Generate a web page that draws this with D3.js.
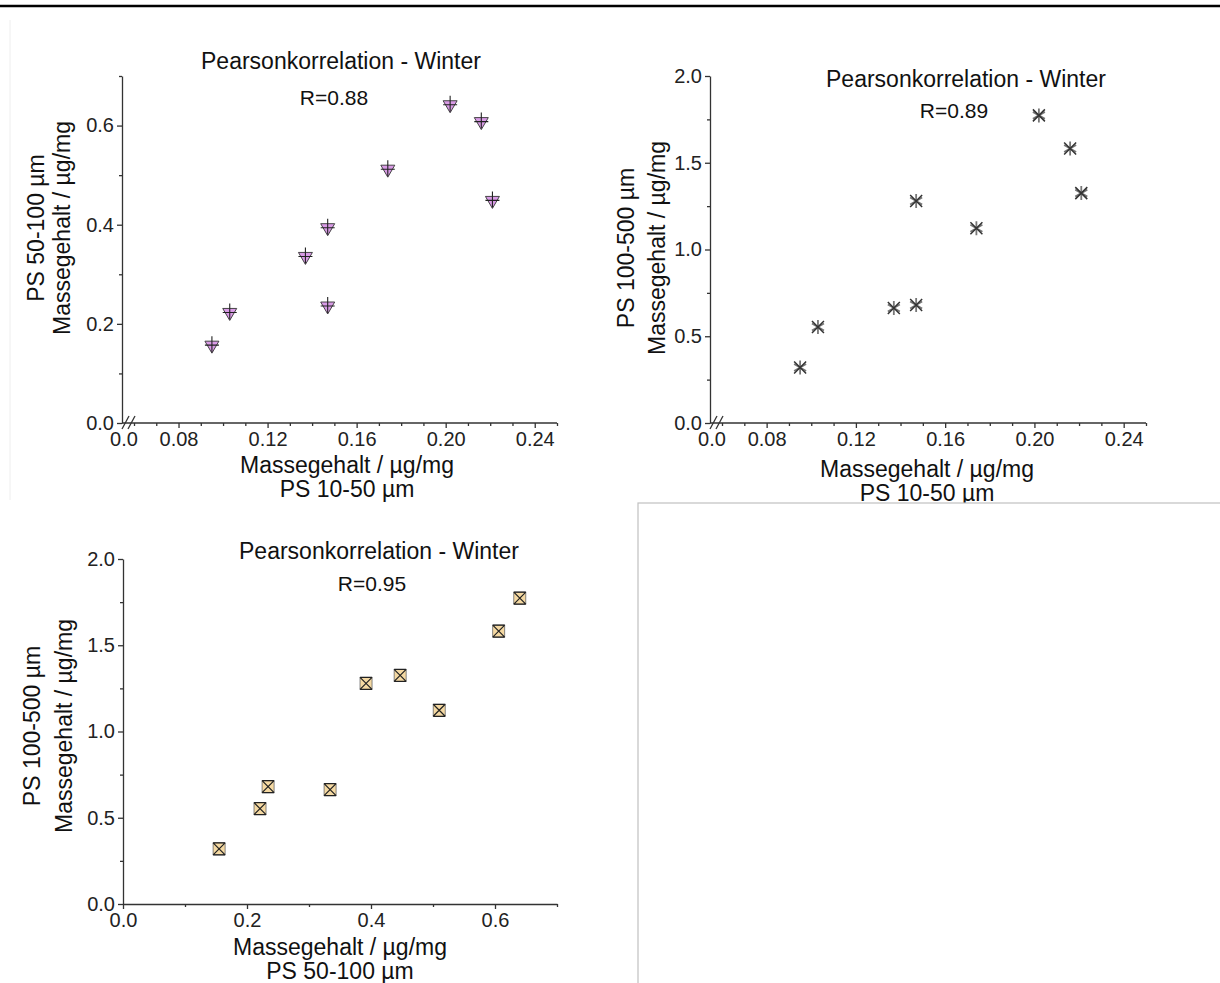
<!DOCTYPE html>
<html lang="de">
<head>
<meta charset="UTF-8">
<title>Pearsonkorrelation - Winter</title>
<script src="https://d3js.org/d3.v7.min.js"></script>
<style>
  body, html {
    margin: 0;
    padding: 0;
    background: #fff;
    overflow: hidden;
  }
  svg {
    display: block;
    font-family: "Liberation Sans", Arial, sans-serif;
  }
  .axis path, .axis line {
    stroke: #333;
    stroke-width: 1.3;
  }
  .axis text {
    font-family: "Liberation Sans", Arial, sans-serif;
    font-size: 20px;
    fill: #222;
  }
  .title {
    font-size: 23px;
    fill: #111;
    text-anchor: middle;
  }
  .rval {
    font-size: 21px;
    fill: #111;
    text-anchor: middle;
  }
  .axtitle {
    font-size: 23px;
    fill: #111;
    text-anchor: middle;
  }
</style>
</head>
<body>
<svg></svg>
<script>
  // Massegehalt (µg/mg) der neun Winterproben je Größenfraktion
  const ps10_50   = [0.095, 0.103, 0.137, 0.147, 0.147, 0.174, 0.202, 0.216, 0.221];
  const ps50_100  = [0.155, 0.221, 0.334, 0.392, 0.234, 0.510, 0.640, 0.606, 0.447];
  const ps100_500 = [0.320, 0.553, 0.663, 1.279, 0.680, 1.123, 1.773, 1.582, 1.325];

  const rLabels = ["R=0.88", "R=0.89", "R=0.95"];
  const titleText = "Pearsonkorrelation - Winter";
  const unitLabel = "Massegehalt / µg/mg";

  const xTicksBroken = [0.08, 0.12, 0.16, 0.20, 0.24];
  const xTicksPlain = [0.0, 0.2, 0.4, 0.6];
  const yTicksSmall = [0.0, 0.2, 0.4, 0.6];
  const yTicksLarge = [0.0, 0.5, 1.0, 1.5, 2.0];

  const width = 1220, height = 983;
  const svg = d3.select("svg").attr("width", width).attr("height", height);

  // heading rule at the very top
  svg.append("line")
    .attr("x1", 0).attr("x2", width)
    .attr("y1", 6).attr("y2", 6)
    .attr("stroke", "#000").attr("stroke-width", 2.5);

  // faint frame left of the first chart
  svg.append("line")
    .attr("x1", 10).attr("x2", 10)
    .attr("y1", 20).attr("y2", 500)
    .attr("stroke", "#eee");

  const minorBroken = d3.range(6, 26).map(d => d / 100)
    .filter(d => !xTicksBroken.some(t => Math.abs(t - d) < 1e-6));

  const panels = [
    {
      left: 122, top: 76, right: 557, bottom: 423,
      xs: ps10_50, ys: ps50_100, broken: true,
      xDomain: [0.06, 0.25], yDomain: [0, 0.7],
      xTicks: xTicksBroken, yTicks: yTicksSmall,
      xMinor: minorBroken, yMinor: [0.1, 0.3, 0.5, 0.7],
      xFormat: d3.format(".2f"),
      marker: "tri", r: rLabels[0],
      titleX: 341, titleY: 69, rX: 334, rY: 105,
      xTitleX: 347, xTitleY: 473, xTitle2: "PS 10-50 µm",
      yTitleY: 228, yTitle1X: 44, yTitle2X: 70, yTitle1: "PS 50-100 µm"
    },
    {
      left: 710, top: 76, right: 1146, bottom: 423,
      xs: ps10_50, ys: ps100_500, broken: true,
      xDomain: [0.06, 0.25], yDomain: [0, 2],
      xTicks: xTicksBroken, yTicks: yTicksLarge,
      xMinor: minorBroken, yMinor: [0.25, 0.75, 1.25, 1.75],
      xFormat: d3.format(".2f"),
      marker: "star", r: rLabels[1],
      titleX: 966, titleY: 87, rX: 954, rY: 118,
      xTitleX: 927, xTitleY: 477, xTitle2: "PS 10-50 µm",
      yTitleY: 248, yTitle1X: 634, yTitle2X: 665, yTitle1: "PS 100-500 µm"
    },
    {
      left: 123, top: 559, right: 557, bottom: 904,
      xs: ps50_100, ys: ps100_500, broken: false,
      xDomain: [0, 0.7], yDomain: [0, 2],
      xTicks: xTicksPlain, yTicks: yTicksLarge,
      xMinor: [0.1, 0.3, 0.5, 0.7], yMinor: [0.25, 0.75, 1.25, 1.75],
      xFormat: d3.format(".1f"),
      marker: "box", r: rLabels[2],
      titleX: 379, titleY: 559, rX: 372, rY: 591,
      xTitleX: 340, xTitleY: 955, xTitle2: "PS 50-100 µm",
      yTitleY: 726, yTitle1X: 40, yTitle2X: 72, yTitle1: "PS 100-500 µm"
    }
  ];

  panels.forEach(drawPanel);

  function drawPanel(p) {
    const g = svg.append("g");
    const xStart = p.broken ? p.left + 12 : p.left;
    const x = d3.scaleLinear().domain(p.xDomain).range([xStart, p.right]);
    const y = d3.scaleLinear().domain(p.yDomain).range([p.bottom, p.top]);

    // y axis, major + minor ticks
    g.append("g").attr("class", "axis")
      .attr("transform", `translate(${p.left},0)`)
      .call(d3.axisLeft(y).tickValues(p.yTicks).tickFormat(d3.format(".1f"))
        .tickSize(5).tickSizeOuter(0).tickPadding(3));
    g.append("g").attr("class", "axis minor")
      .attr("transform", `translate(${p.left},0)`)
      .call(d3.axisLeft(y).tickValues(p.yMinor).tickFormat("").tickSize(3).tickSizeOuter(0))
      .select(".domain").remove();

    // x axis
    const xa = g.append("g").attr("class", "axis")
      .attr("transform", `translate(0,${p.bottom})`)
      .call(d3.axisBottom(x).tickValues(p.xTicks).tickFormat(p.xFormat)
        .tickSize(5).tickSizeOuter(0).tickPadding(4));
    g.append("g").attr("class", "axis minor")
      .attr("transform", `translate(0,${p.bottom})`)
      .call(d3.axisBottom(x).tickValues(p.xMinor).tickFormat("").tickSize(3).tickSizeOuter(0))
      .select(".domain").remove();

    if (p.broken) {
      // extend the axis line back to the origin and mark the break
      xa.select(".domain").attr("d", `M${p.left},0H${p.right}`);
      xa.append("text")
        .attr("x", p.left + 2).attr("y", 9).attr("dy", "0.71em")
        .attr("text-anchor", "middle").attr("fill", "#222")
        .text(d3.format(".1f")(0));
      [3, 9].forEach(dx => {
        g.append("line")
          .attr("x1", p.left + dx - 3).attr("y1", p.bottom + 6)
          .attr("x2", p.left + dx + 4).attr("y2", p.bottom - 7)
          .attr("stroke", "#333").attr("stroke-width", 1.3);
      });
    }

    // texts
    g.append("text").attr("class", "title").attr("x", p.titleX).attr("y", p.titleY).text(titleText);
    g.append("text").attr("class", "rval").attr("x", p.rX).attr("y", p.rY).text(p.r);
    g.append("text").attr("class", "axtitle").attr("x", p.xTitleX).attr("y", p.xTitleY).text(unitLabel);
    g.append("text").attr("class", "axtitle").attr("x", p.xTitleX).attr("y", p.xTitleY + 24).text(p.xTitle2);
    g.append("text").attr("class", "axtitle")
      .attr("transform", `translate(${p.yTitle1X},${p.yTitleY}) rotate(-90)`).text(p.yTitle1);
    g.append("text").attr("class", "axtitle")
      .attr("transform", `translate(${p.yTitle2X},${p.yTitleY}) rotate(-90)`).text(unitLabel);

    // points
    const pts = g.selectAll(".pt")
      .data(p.xs.map((v, i) => [v, p.ys[i]]))
      .enter().append("g")
      .attr("class", "pt")
      .attr("transform", d => `translate(${x(d[0])},${y(d[1])})`);

    if (p.marker === "tri") {
      pts.append("path").attr("d", "M-7,-5L7,-5L0,7Z")
        .attr("fill", "#d99be6").attr("stroke", "#333").attr("stroke-width", 0.9);
      pts.append("path").attr("d", "M-7,-1H7M0,-10V6")
        .attr("stroke", "#222").attr("stroke-width", 1.1);
    } else if (p.marker === "star") {
      pts.append("path").attr("d", "M0,-7V7M-6,-3.5L6,3.5M-6,3.5L6,-3.5")
        .attr("stroke", "#777").attr("stroke-width", 1.8);
      pts.append("path").attr("d", "M-6,-6L6,6M-6,6L6,-6")
        .attr("stroke", "#333").attr("stroke-width", 1.5);
    } else {
      pts.append("rect").attr("x", -6).attr("y", -6).attr("width", 12).attr("height", 12)
        .attr("fill", "#f5d9a2").attr("stroke", "#666").attr("stroke-width", 0.8);
      pts.append("path").attr("d", "M-6,-6L6,6M-6,6L6,-6M-6,-6H6M-6,6H6")
        .attr("stroke", "#222").attr("stroke-width", 1.2);
    }
  }

  // empty frame in the lower right corner, covering what lies below it
  svg.append("rect")
    .attr("x", 638).attr("y", 503)
    .attr("width", width - 638 + 2).attr("height", height - 503 + 2)
    .attr("fill", "#fff").attr("stroke", "#c0c0c0").attr("stroke-width", 1.2);
</script>
</body>
</html>
